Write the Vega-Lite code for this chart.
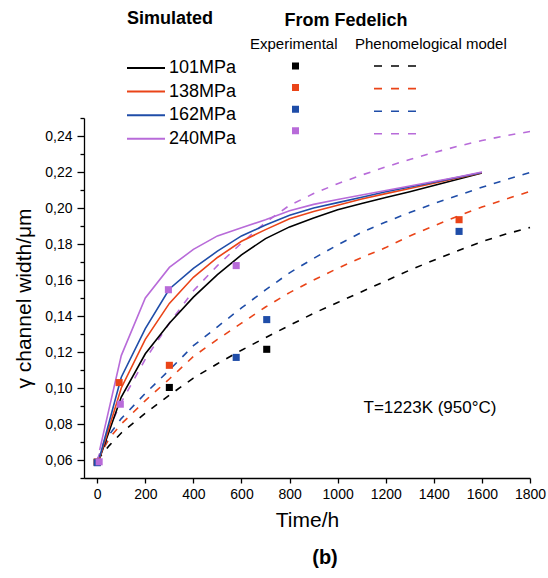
{
  "$schema": "https://vega.github.io/schema/vega-lite/v6.json",
  "width": 446,
  "height": 360,
  "autosize": {"type": "none"},
  "padding": {"left": 84, "top": 118, "right": 18, "bottom": 100},
  "background": "white",
  "config": {
    "view": {"stroke": null},
    "font": "Liberation Sans",
    "axis": {"grid": false, "domainColor": "black", "tickColor": "black", "labelColor": "black", "titleColor": "black", "titleFontWeight": "normal", "labelFont": "Liberation Sans", "titleFont": "Liberation Sans"},
    "legend": {"padding": 0, "labelFont": "Liberation Sans", "titleFont": "Liberation Sans", "labelColor": "black", "titleColor": "black"}
  },
  "title": {"text": "(b)", "orient": "bottom", "frame": "group", "anchor": "middle", "fontSize": 20, "fontWeight": "bold", "font": "Liberation Sans", "color": "black", "offset": 18, "dx": 18},
  "datasets": {
    "sim": [
      {"p": "101MPa", "t": 10, "v": 0.061}, {"p": "101MPa", "t": 100, "v": 0.095}, {"p": "101MPa", "t": 200, "v": 0.119}, {"p": "101MPa", "t": 300, "v": 0.136}, {"p": "101MPa", "t": 400, "v": 0.1505}, {"p": "101MPa", "t": 500, "v": 0.163}, {"p": "101MPa", "t": 600, "v": 0.174}, {"p": "101MPa", "t": 700, "v": 0.183}, {"p": "101MPa", "t": 800, "v": 0.1895}, {"p": "101MPa", "t": 900, "v": 0.1945}, {"p": "101MPa", "t": 1000, "v": 0.199}, {"p": "101MPa", "t": 1100, "v": 0.2025}, {"p": "101MPa", "t": 1200, "v": 0.2058}, {"p": "101MPa", "t": 1300, "v": 0.209}, {"p": "101MPa", "t": 1400, "v": 0.2125}, {"p": "101MPa", "t": 1500, "v": 0.216}, {"p": "101MPa", "t": 1600, "v": 0.2195},
      {"p": "138MPa", "t": 10, "v": 0.061}, {"p": "138MPa", "t": 100, "v": 0.1}, {"p": "138MPa", "t": 200, "v": 0.127}, {"p": "138MPa", "t": 300, "v": 0.147}, {"p": "138MPa", "t": 400, "v": 0.1615}, {"p": "138MPa", "t": 500, "v": 0.1725}, {"p": "138MPa", "t": 600, "v": 0.1815}, {"p": "138MPa", "t": 700, "v": 0.188}, {"p": "138MPa", "t": 800, "v": 0.194}, {"p": "138MPa", "t": 900, "v": 0.198}, {"p": "138MPa", "t": 1000, "v": 0.2015}, {"p": "138MPa", "t": 1100, "v": 0.205}, {"p": "138MPa", "t": 1200, "v": 0.208}, {"p": "138MPa", "t": 1300, "v": 0.2108}, {"p": "138MPa", "t": 1400, "v": 0.2137}, {"p": "138MPa", "t": 1500, "v": 0.2167}, {"p": "138MPa", "t": 1600, "v": 0.2196},
      {"p": "162MPa", "t": 10, "v": 0.0615}, {"p": "162MPa", "t": 100, "v": 0.106}, {"p": "162MPa", "t": 200, "v": 0.133}, {"p": "162MPa", "t": 300, "v": 0.155}, {"p": "162MPa", "t": 400, "v": 0.1665}, {"p": "162MPa", "t": 500, "v": 0.176}, {"p": "162MPa", "t": 600, "v": 0.1845}, {"p": "162MPa", "t": 700, "v": 0.1905}, {"p": "162MPa", "t": 800, "v": 0.196}, {"p": "162MPa", "t": 900, "v": 0.2}, {"p": "162MPa", "t": 1000, "v": 0.203}, {"p": "162MPa", "t": 1100, "v": 0.206}, {"p": "162MPa", "t": 1200, "v": 0.209}, {"p": "162MPa", "t": 1300, "v": 0.2117}, {"p": "162MPa", "t": 1400, "v": 0.2143}, {"p": "162MPa", "t": 1500, "v": 0.217}, {"p": "162MPa", "t": 1600, "v": 0.2197},
      {"p": "240MPa", "t": 10, "v": 0.0655}, {"p": "240MPa", "t": 100, "v": 0.118}, {"p": "240MPa", "t": 200, "v": 0.15}, {"p": "240MPa", "t": 300, "v": 0.167}, {"p": "240MPa", "t": 400, "v": 0.177}, {"p": "240MPa", "t": 500, "v": 0.1845}, {"p": "240MPa", "t": 600, "v": 0.189}, {"p": "240MPa", "t": 700, "v": 0.1935}, {"p": "240MPa", "t": 800, "v": 0.1985}, {"p": "240MPa", "t": 900, "v": 0.202}, {"p": "240MPa", "t": 1000, "v": 0.2047}, {"p": "240MPa", "t": 1100, "v": 0.2072}, {"p": "240MPa", "t": 1200, "v": 0.2097}, {"p": "240MPa", "t": 1300, "v": 0.2122}, {"p": "240MPa", "t": 1400, "v": 0.2147}, {"p": "240MPa", "t": 1500, "v": 0.2172}, {"p": "240MPa", "t": 1600, "v": 0.22}
    ],
    "model": [
      {"p": "101MPa", "t": 0, "v": 0.06}, {"p": "101MPa", "t": 50, "v": 0.068}, {"p": "101MPa", "t": 100, "v": 0.075}, {"p": "101MPa", "t": 200, "v": 0.086}, {"p": "101MPa", "t": 300, "v": 0.096}, {"p": "101MPa", "t": 400, "v": 0.1055}, {"p": "101MPa", "t": 500, "v": 0.1135}, {"p": "101MPa", "t": 600, "v": 0.121}, {"p": "101MPa", "t": 700, "v": 0.128}, {"p": "101MPa", "t": 800, "v": 0.1348}, {"p": "101MPa", "t": 900, "v": 0.1415}, {"p": "101MPa", "t": 1000, "v": 0.1475}, {"p": "101MPa", "t": 1100, "v": 0.1535}, {"p": "101MPa", "t": 1200, "v": 0.1595}, {"p": "101MPa", "t": 1300, "v": 0.1655}, {"p": "101MPa", "t": 1400, "v": 0.171}, {"p": "101MPa", "t": 1500, "v": 0.1763}, {"p": "101MPa", "t": 1600, "v": 0.1813}, {"p": "101MPa", "t": 1700, "v": 0.1855}, {"p": "101MPa", "t": 1800, "v": 0.1892},
      {"p": "138MPa", "t": 0, "v": 0.06}, {"p": "138MPa", "t": 50, "v": 0.072}, {"p": "138MPa", "t": 100, "v": 0.08}, {"p": "138MPa", "t": 200, "v": 0.093}, {"p": "138MPa", "t": 300, "v": 0.105}, {"p": "138MPa", "t": 400, "v": 0.1175}, {"p": "138MPa", "t": 500, "v": 0.127}, {"p": "138MPa", "t": 600, "v": 0.136}, {"p": "138MPa", "t": 700, "v": 0.145}, {"p": "138MPa", "t": 800, "v": 0.153}, {"p": "138MPa", "t": 900, "v": 0.16}, {"p": "138MPa", "t": 1000, "v": 0.1665}, {"p": "138MPa", "t": 1100, "v": 0.1725}, {"p": "138MPa", "t": 1200, "v": 0.178}, {"p": "138MPa", "t": 1300, "v": 0.1845}, {"p": "138MPa", "t": 1400, "v": 0.19}, {"p": "138MPa", "t": 1500, "v": 0.1955}, {"p": "138MPa", "t": 1600, "v": 0.2005}, {"p": "138MPa", "t": 1700, "v": 0.205}, {"p": "138MPa", "t": 1800, "v": 0.2092},
      {"p": "162MPa", "t": 0, "v": 0.06}, {"p": "162MPa", "t": 50, "v": 0.074}, {"p": "162MPa", "t": 100, "v": 0.083}, {"p": "162MPa", "t": 200, "v": 0.097}, {"p": "162MPa", "t": 300, "v": 0.11}, {"p": "162MPa", "t": 400, "v": 0.1235}, {"p": "162MPa", "t": 500, "v": 0.134}, {"p": "162MPa", "t": 600, "v": 0.1445}, {"p": "162MPa", "t": 700, "v": 0.1545}, {"p": "162MPa", "t": 800, "v": 0.164}, {"p": "162MPa", "t": 900, "v": 0.172}, {"p": "162MPa", "t": 1000, "v": 0.1795}, {"p": "162MPa", "t": 1100, "v": 0.1865}, {"p": "162MPa", "t": 1200, "v": 0.1922}, {"p": "162MPa", "t": 1300, "v": 0.1975}, {"p": "162MPa", "t": 1400, "v": 0.2025}, {"p": "162MPa", "t": 1500, "v": 0.207}, {"p": "162MPa", "t": 1600, "v": 0.2115}, {"p": "162MPa", "t": 1700, "v": 0.2157}, {"p": "162MPa", "t": 1800, "v": 0.2197},
      {"p": "240MPa", "t": 0, "v": 0.06}, {"p": "240MPa", "t": 50, "v": 0.078}, {"p": "240MPa", "t": 100, "v": 0.092}, {"p": "240MPa", "t": 200, "v": 0.116}, {"p": "240MPa", "t": 300, "v": 0.136}, {"p": "240MPa", "t": 400, "v": 0.154}, {"p": "240MPa", "t": 500, "v": 0.168}, {"p": "240MPa", "t": 600, "v": 0.1805}, {"p": "240MPa", "t": 700, "v": 0.192}, {"p": "240MPa", "t": 800, "v": 0.2015}, {"p": "240MPa", "t": 900, "v": 0.208}, {"p": "240MPa", "t": 1000, "v": 0.2135}, {"p": "240MPa", "t": 1100, "v": 0.2183}, {"p": "240MPa", "t": 1200, "v": 0.2228}, {"p": "240MPa", "t": 1300, "v": 0.227}, {"p": "240MPa", "t": 1400, "v": 0.2308}, {"p": "240MPa", "t": 1500, "v": 0.2343}, {"p": "240MPa", "t": 1600, "v": 0.2375}, {"p": "240MPa", "t": 1700, "v": 0.2402}, {"p": "240MPa", "t": 1800, "v": 0.2425}
    ],
    "exp": [
      {"p": "101MPa", "t": 0, "v": 0.0588}, {"p": "101MPa", "t": 300, "v": 0.1003}, {"p": "101MPa", "t": 705, "v": 0.1215},
      {"p": "138MPa", "t": 0, "v": 0.0588}, {"p": "138MPa", "t": 91, "v": 0.103}, {"p": "138MPa", "t": 300, "v": 0.1126}, {"p": "138MPa", "t": 1505, "v": 0.1935},
      {"p": "162MPa", "t": 0, "v": 0.0585}, {"p": "162MPa", "t": 578, "v": 0.117}, {"p": "162MPa", "t": 705, "v": 0.138}, {"p": "162MPa", "t": 1505, "v": 0.187},
      {"p": "240MPa", "t": 8, "v": 0.059}, {"p": "240MPa", "t": 96, "v": 0.091}, {"p": "240MPa", "t": 296, "v": 0.1546}, {"p": "240MPa", "t": 578, "v": 0.168}
    ]
  },
  "layer": [
    {
      "data": {"name": "model"},
      "mark": {"type": "line", "strokeDash": [7, 8], "strokeWidth": 1.6},
      "encoding": {
        "x": {"field": "t", "type": "quantitative", "scale": {"domain": [-55, 1800], "nice": false, "zero": false},
          "axis": {"values": [0, 100, 200, 300, 400, 500, 600, 700, 800, 900, 1000, 1100, 1200, 1300, 1400, 1500, 1600, 1700, 1800],
            "labelExpr": "datum.value % 200 === 0 ? format(datum.value, 'd') : ''", "title": "Time/h", "domainWidth": 1.3, "tickWidth": 1.3, "tickSize": 5,
            "labelFontSize": 14, "labelPadding": 4, "titleFontSize": 21, "titlePadding": 8, "labelFlush": false, "labelOverlap": false}},
        "y": {"field": "v", "type": "quantitative", "scale": {"domain": [0.05, 0.25], "nice": false, "zero": false}, "axis": null},
        "color": {"field": "p", "type": "nominal",
          "scale": {"domain": ["101MPa", "138MPa", "162MPa", "240MPa"], "range": ["#000000", "#EA4418", "#1F4DA8", "#B86BD9"]},
          "legend": {"title": "Phenomelogical model", "orient": "none", "legendX": 271, "legendY": -81, "titleFontSize": 15, "titleFontWeight": "normal", "titlePadding": 4,
            "symbolType": "stroke", "symbolSize": 1849, "symbolStrokeWidth": 1.6, "symbolDash": [8, 9], "symbolOffset": 18, "clipHeight": 20, "rowPadding": 2.6, "labelExpr": "''", "labelFontSize": 15}}
      }
    },
    {
      "data": {"name": "sim"},
      "mark": {"type": "line", "strokeWidth": 1.6},
      "encoding": {
        "x": {"field": "t", "type": "quantitative"},
        "y": {"field": "v", "type": "quantitative",
          "axis": {"orient": "left", "values": [0.06, 0.08, 0.1, 0.12, 0.14, 0.16, 0.18, 0.2, 0.22, 0.24],
            "labelExpr": "replace(format(datum.value, '.2f'), '.', ',')", "title": "γ channel width/μm", "domainWidth": 1.3, "tickWidth": 1.3, "tickSize": 7,
            "labelFontSize": 14, "labelPadding": 5, "titleFontSize": 21, "titlePadding": 10}},
        "color": {"field": "p", "type": "nominal",
          "scale": {"domain": ["101MPa", "138MPa", "162MPa", "240MPa"], "range": ["#000000", "#EA4418", "#1F4DA8", "#B86BD9"]},
          "legend": {"title": "Simulated", "orient": "none", "legendX": 43, "legendY": -108, "titleFontSize": 18, "titleFontWeight": "bold", "titlePadding": 30,
            "symbolType": "stroke", "symbolSize": 1764, "symbolStrokeWidth": 2, "symbolOffset": -5, "clipHeight": 20, "rowPadding": 3.6, "labelFontSize": 18, "labelOffset": 3}}
      }
    },
    {
      "data": {"name": "exp"},
      "mark": {"type": "point", "shape": "square", "filled": true, "size": 50, "opacity": 1},
      "encoding": {
        "x": {"field": "t", "type": "quantitative"},
        "y": {"field": "v", "type": "quantitative",
          "axis": {"orient": "left", "values": [0.05, 0.07, 0.09, 0.11, 0.13, 0.15, 0.17, 0.19, 0.21, 0.23, 0.25], "labels": false, "domain": false, "tickSize": 4, "tickWidth": 1.3, "title": null}},
        "color": {"field": "p", "type": "nominal",
          "scale": {"domain": ["101MPa", "138MPa", "162MPa", "240MPa"], "range": ["#000000", "#EA4418", "#1F4DA8", "#B86BD9"]},
          "legend": {"title": "Experimental", "orient": "none", "legendX": 166, "legendY": -81, "titleFontSize": 15, "titleFontWeight": "normal", "titlePadding": 4,
            "symbolType": "square", "symbolSize": 49, "symbolOffset": 38, "clipHeight": 20, "rowPadding": 1.6, "labelExpr": "''", "labelFontSize": 15}}
      }
    },
    {
      "data": {"values": [{"label": "T=1223K (950°C)"}]},
      "mark": {"type": "text", "fontSize": 17, "font": "Liberation Sans", "color": "black", "align": "center", "baseline": "middle"},
      "encoding": {
        "x": {"datum": 1384, "type": "quantitative"},
        "y": {"datum": 0.0889, "type": "quantitative", "axis": null},
        "text": {"field": "label"}
      }
    },
    {
      "data": {"values": [{"label": "From Fedelich"}]},
      "mark": {"type": "text", "fontSize": 18, "fontWeight": "bold", "font": "Liberation Sans", "color": "black", "align": "center", "baseline": "middle"},
      "encoding": {
        "x": {"datum": 1035, "type": "quantitative"},
        "y": {"datum": 0.304, "type": "quantitative", "axis": null},
        "text": {"field": "label"}
      }
    }
  ],
  "resolve": {"scale": {"color": "independent"}, "axis": {"y": "independent"}}
}
